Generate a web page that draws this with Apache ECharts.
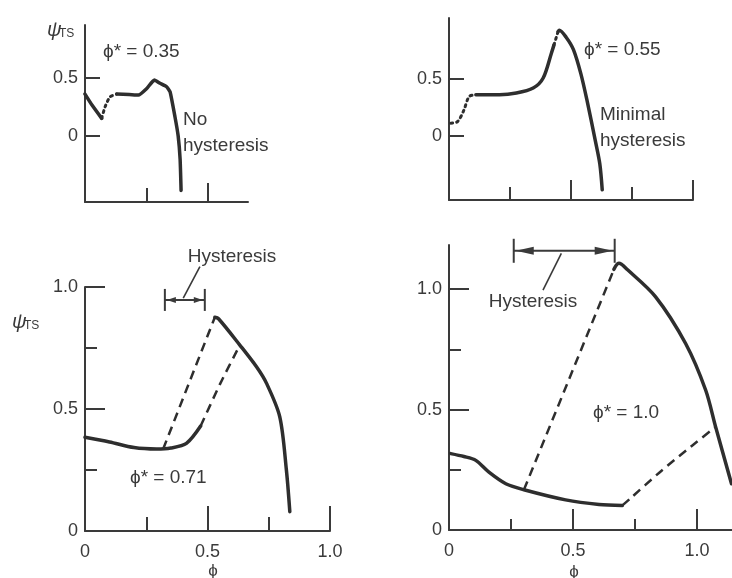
<!DOCTYPE html>
<html>
<head>
<meta charset="utf-8">
<script src="https://cdn.jsdelivr.net/npm/echarts@6/dist/echarts.min.js"></script>
<style>
html, body { margin: 0; padding: 0; background: #fff; }
#chart { width: 732px; height: 578px; }
</style>
</head>
<body>
<div id="chart"></div>
<script>
// panel 1 : phi* = 0.35, no hysteresis
var p1SolidA = [[0, 0.359], [0.03, 0.26], [0.068, 0.15]];
var p1Dotted = [[0.068, 0.15], [0.082, 0.25], [0.102, 0.336], [0.129, 0.359]];
var p1SolidB = [[0.129, 0.359], [0.18, 0.355], [0.218, 0.351], [0.252, 0.408], [0.283, 0.48],
  [0.306, 0.452], [0.333, 0.422], [0.347, 0.379], [0.367, 0.164], [0.38, 0.0], [0.388, -0.2], [0.392, -0.47]];

// panel 2 : phi* = 0.55, minimal hysteresis
var p2DottedA = [[0.007, 0.11], [0.035, 0.124], [0.06, 0.22], [0.083, 0.346], [0.11, 0.361]];
var p2Solid = [[0.11, 0.361], [0.207, 0.361], [0.276, 0.376], [0.345, 0.42], [0.386, 0.509], [0.42, 0.731], [0.43, 0.8]];
var p2DottedB = [[0.43, 0.8], [0.447, 0.92]];
var p2Fall = [[0.447, 0.92], [0.452, 0.932], [0.48, 0.87], [0.51, 0.76], [0.54, 0.55], [0.565, 0.317],
  [0.6, -0.05], [0.618, -0.25], [0.628, -0.48]];

// panel 3 : phi* = 0.71
var p3Low = [[0, 0.384], [0.1, 0.365], [0.2, 0.342], [0.292, 0.336], [0.35, 0.34], [0.414, 0.359], [0.472, 0.43]];
var p3DashA = [[0.319, 0.336], [0.53, 0.876]];
var p3DashB = [[0.472, 0.43], [0.55, 0.6], [0.632, 0.762]];
var p3Fall = [[0.53, 0.876], [0.545, 0.87], [0.632, 0.762], [0.70, 0.673], [0.741, 0.605], [0.795, 0.468],
  [0.822, 0.25], [0.836, 0.079]];

// panel 4 : phi* = 1.0
var p4Low = [[0.007, 0.317], [0.06, 0.305], [0.108, 0.289], [0.161, 0.24], [0.229, 0.192], [0.302, 0.167],
  [0.47, 0.125], [0.605, 0.106], [0.699, 0.102]];
var p4DashA = [[0.302, 0.167], [0.665, 1.082]];
var p4DashB = [[0.699, 0.102], [0.73, 0.13], [0.85, 0.24], [0.98, 0.35], [1.075, 0.428]];
var p4Fall = [[0.665, 1.082], [0.675, 1.1], [0.685, 1.107], [0.72, 1.08], [0.833, 0.968], [0.954, 0.774],
  [1.035, 0.58], [1.075, 0.428], [1.139, 0.192]];

// tick values
var topYMajor = [0, 0.5];
var topYLabels = [0, 0.5];
var botYMajor = [0.5, 1.0];
var botYMinor = [0.25, 0.75];
var botYLabels = [0, 0.5, 1.0];
var xMajor1 = [0.5];
var xMinor1 = [0.25];
var xMajor = [0.5, 1.0];
var xMinor = [0.25, 0.75];
var xLabels = [0, 0.5, 1.0];

var ink = '#3a3a3a';
var font = 'Liberation Sans';

var grids = [
  { left: 85, top: 25, width: 163, height: 177 },
  { left: 449, top: 18, width: 244, height: 182 },
  { left: 85, top: 287, width: 245, height: 244 },
  { left: 449, top: 245, width: 283, height: 285 }
];
var xRanges = [[0, 0.665], [0, 1], [0, 1], [0, 1.141]];
var yRanges = [[-0.57, 0.954], [-0.57, 1.04], [0, 1], [0, 1.183]];

var xAxes = [], yAxes = [];
function fmt(v) { return v === 0 ? '0' : v.toFixed(1); }
function addAxes(g, xMaj, xMajLen, xMin, xMinLen, xLab, yMaj, yMajLen, yMin, yMinLen, yLab) {
  var lab = { color: ink, fontSize: 18, fontFamily: font };
  var tickStyle = { color: ink, width: 2 };
  xAxes.push({
    type: 'value', gridIndex: g, position: 'bottom', min: xRanges[g][0], max: xRanges[g][1],
    axisLine: { onZero: false, lineStyle: { color: ink, width: 2 } },
    axisTick: { inside: true, length: xMajLen, customValues: xMaj, lineStyle: tickStyle },
    axisLabel: xLab ? Object.assign({ customValues: xLab, margin: 12, formatter: fmt }, lab) : { show: false },
    splitLine: { show: false }
  });
  xAxes.push({
    type: 'value', gridIndex: g, position: 'bottom', min: xRanges[g][0], max: xRanges[g][1],
    axisLine: { show: false, onZero: false },
    axisTick: { inside: true, length: xMinLen, customValues: xMin, lineStyle: tickStyle },
    axisLabel: { show: false }, splitLine: { show: false }
  });
  yAxes.push({
    type: 'value', gridIndex: g, position: 'left', min: yRanges[g][0], max: yRanges[g][1],
    axisLine: { show: true, onZero: false, lineStyle: { color: ink, width: 2 } },
    axisTick: { show: true, inside: true, length: yMajLen, customValues: yMaj, lineStyle: tickStyle },
    axisLabel: Object.assign({ customValues: yLab, margin: 7, formatter: fmt }, lab),
    splitLine: { show: false }
  });
  yAxes.push({
    type: 'value', gridIndex: g, position: 'left', min: yRanges[g][0], max: yRanges[g][1],
    axisLine: { show: false, onZero: false },
    axisTick: { show: yMin.length > 0, inside: true, length: yMinLen, customValues: yMin, lineStyle: tickStyle },
    axisLabel: { show: false }, splitLine: { show: false }
  });
}
addAxes(0, xMajor1, 19, xMinor1, 14, null, topYMajor, 15, [], 0, topYLabels);
addAxes(1, xMajor, 20, xMinor, 13, null, topYMajor, 15, [], 0, topYLabels);
addAxes(2, xMajor, 25, xMinor, 14, xLabels, botYMajor, 20, botYMinor, 12, botYLabels);
addAxes(3, xMajor, 21, xMinor, 11, xLabels, botYMajor, 20, botYMinor, 12, botYLabels);

function curve(g, data, kind, smooth) {
  var ls = { color: '#2e2e2e', width: 3.5, cap: 'round', join: 'round' };
  if (kind === 'dash') { ls.width = 2.5; ls.type = [9, 6]; ls.cap = 'butt'; }
  if (kind === 'dot') { ls.width = 3; ls.type = [2, 4]; }
  return {
    type: 'line', xAxisIndex: 2 * g, yAxisIndex: 2 * g, data: data,
    showSymbol: false, smooth: smooth, lineStyle: ls, silent: true, clip: false, animation: false
  };
}

var series = [
  curve(0, p1SolidA, 'solid', 0.2), curve(0, p1Dotted, 'dot', 0.2), curve(0, p1SolidB, 'solid', 0.15),
  curve(1, p2DottedA, 'dot', 0.3), curve(1, p2Solid, 'solid', 0.3), curve(1, p2DottedB, 'dot', false), curve(1, p2Fall, 'solid', 0.3),
  curve(2, p3Low, 'solid', 0.3), curve(2, p3DashA, 'dash', false), curve(2, p3DashB, 'dash', 0.2), curve(2, p3Fall, 'solid', 0.3),
  curve(3, p4Low, 'solid', 0.3), curve(3, p4DashA, 'dash', false), curve(3, p4DashB, 'dash', 0.3), curve(3, p4Fall, 'solid', 0.3)
];

var chart = echarts.init(document.getElementById('chart'), null, { renderer: 'canvas' });
chart.setOption({
  backgroundColor: '#ffffff',
  animation: false,
  grid: grids,
  xAxis: xAxes,
  yAxis: yAxes,
  series: series
});

function px(g, pt) {
  return chart.convertToPixel({ xAxisIndex: 2 * g, yAxisIndex: 2 * g }, pt);
}
function txt(x, y, s, size, opts) {
  return {
    type: 'text', x: x, y: y, silent: true,
    style: { text: s, fill: ink, font: (opts && opts.italic ? 'italic ' : '') + size + 'px "' + font + '"',
      textVerticalAlign: 'middle', textAlign: (opts && opts.align) || 'left' }
  };
}
function seg(a, b, w) {
  return { type: 'line', silent: true, shape: { x1: a[0], y1: a[1], x2: b[0], y2: b[1] }, style: { stroke: ink, lineWidth: w || 2 } };
}
function bracket(g, x1, x2, y, half, alen, ahw, lead) {
  var a = px(g, [x1, y]), b = px(g, [x2, y]);
  return [
    seg(a, b, 2),
    seg([a[0], a[1] - half], [a[0], a[1] + half], 2),
    seg([b[0], b[1] - half], [b[0], b[1] + half], 2),
    { type: 'polygon', silent: true, shape: { points: [[a[0] + 2, a[1]], [a[0] + 2 + alen, a[1] - ahw], [a[0] + 2 + alen, a[1] + ahw]] }, style: { fill: ink } },
    { type: 'polygon', silent: true, shape: { points: [[b[0] - 2, b[1]], [b[0] - 2 - alen, b[1] - ahw], [b[0] - 2 - alen, b[1] + ahw]] }, style: { fill: ink } },
    seg(px(g, lead[0]), px(g, lead[1]), 1.6)
  ];
}

var graphics = [];
// psi_TS labels
graphics.push(txt(47, 30, 'ψ', 20, { italic: true }), txt(59, 34, 'TS', 12));
graphics.push(txt(12, 322, 'ψ', 20, { italic: true }), txt(24, 326, 'TS', 12));
// phi axis names
graphics.push(txt(213, 571, 'ϕ', 17, { align: 'center' }), txt(574, 572, 'ϕ', 17, { align: 'center' }));
// panel notes
graphics.push(txt(103, 52, 'ϕ* = 0.35', 19));
graphics.push(txt(183, 120, 'No', 19), txt(183, 146, 'hysteresis', 19));
graphics.push(txt(584, 50, 'ϕ* = 0.55', 19));
graphics.push(txt(600, 115, 'Minimal', 19), txt(600, 141, 'hysteresis', 19));
graphics.push(txt(130, 478, 'ϕ* = 0.71', 19));
graphics.push(txt(593, 413, 'ϕ* = 1.0', 19));
graphics.push(txt(232, 257, 'Hysteresis', 19, { align: 'center' }));
graphics.push(txt(533, 302, 'Hysteresis', 19, { align: 'center' }));
graphics = graphics.concat(bracket(2, 0.326, 0.489, 0.947, 11, 9, 3, [[0.401, 0.954], [0.469, 1.083]]));
graphics = graphics.concat(bracket(3, 0.261, 0.668, 1.159, 12, 18, 4, [[0.453, 1.148], [0.379, 0.996]]));

chart.setOption({ graphic: graphics });
</script>
</body>
</html>
